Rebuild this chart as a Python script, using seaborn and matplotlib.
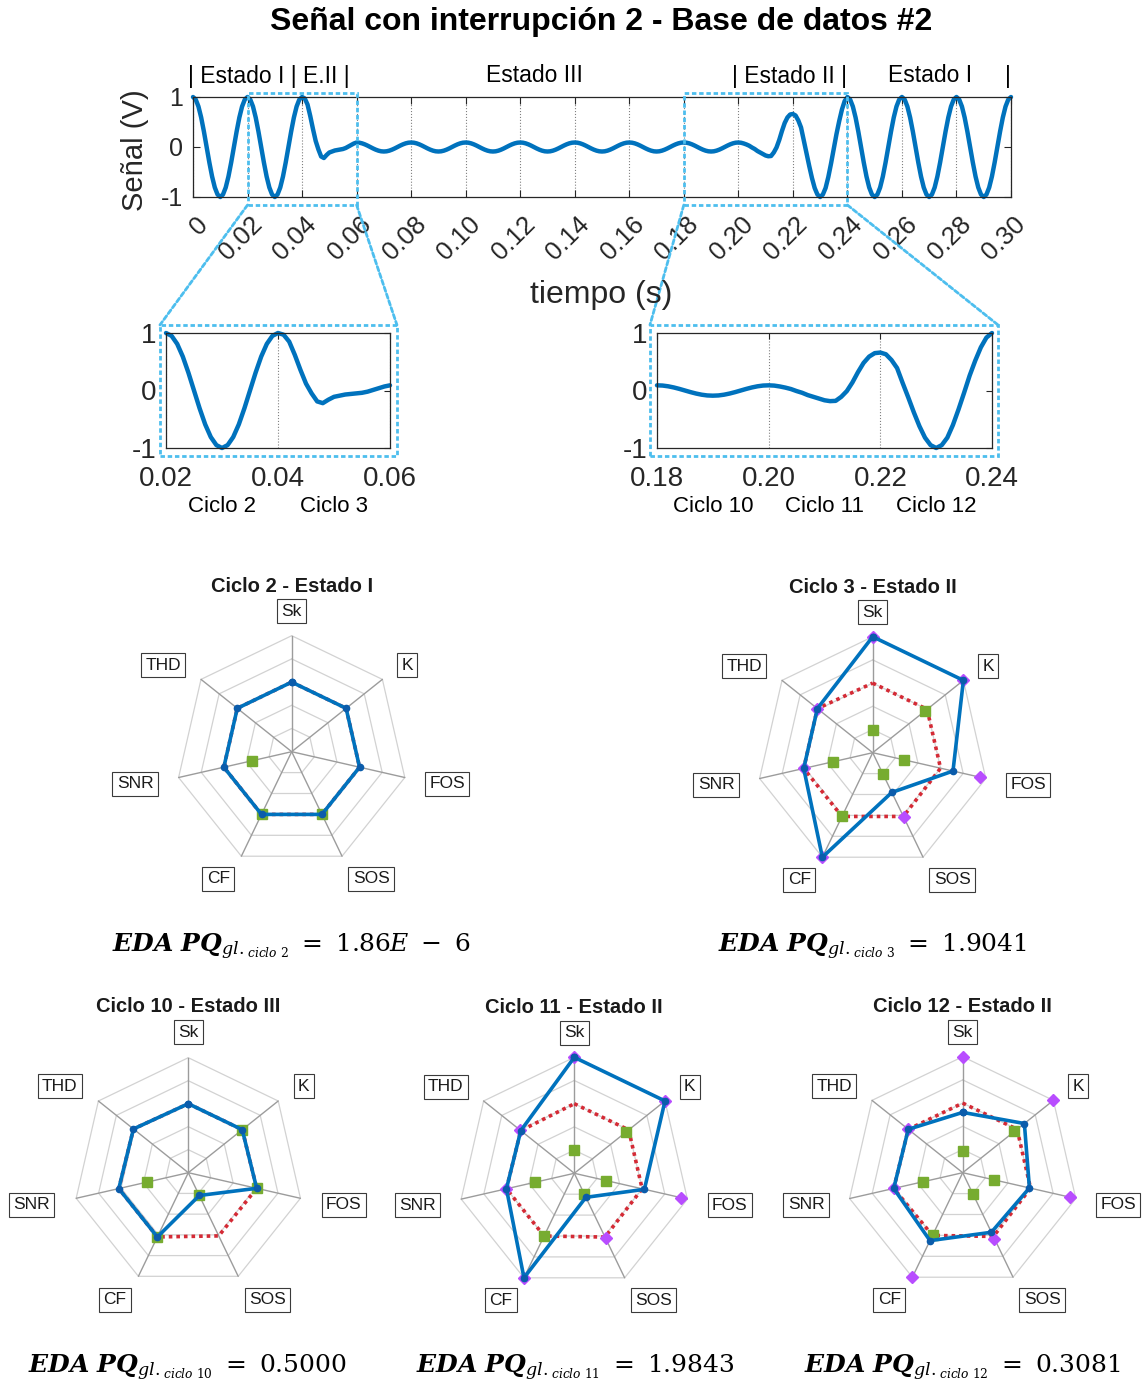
import numpy as np
import pandas as pd
import matplotlib
matplotlib.use("Agg")
import matplotlib.pyplot as plt
import seaborn as sns
from matplotlib.patches import Rectangle, ConnectionPatch
from matplotlib.transforms import ScaledTranslation, blended_transform_factory

sns.set_theme(style="white")
plt.rcParams["font.family"] = ["Liberation Sans", "DejaVu Sans"]
plt.rcParams["mathtext.fontset"] = "custom"
plt.rcParams["mathtext.rm"] = "DejaVu Serif"
plt.rcParams["mathtext.it"] = "DejaVu Serif:italic"
plt.rcParams["mathtext.bf"] = "DejaVu Serif:bold:italic"

# ---------------- data ----------------
TITLE = "Señal con interrupción 2 - Base de datos #2"
SIG_ESTADO_I_INICIO = [  # 0.000 - 0.039 s
    1.00, 0.95, 0.81, 0.59, 0.31, 0.00, -0.31, -0.59, -0.81, -0.95,
    -1.00, -0.95, -0.81, -0.59, -0.31, 0.00, 0.31, 0.59, 0.81, 0.95,
    1.00, 0.95, 0.81, 0.59, 0.31, 0.00, -0.31, -0.59, -0.81, -0.95,
    -1.00, -0.95, -0.81, -0.59, -0.31, 0.00, 0.31, 0.59, 0.81, 0.95]
SIG_CICLO_3 = [  # 0.040 - 0.059 s
    1.00, 0.97, 0.85, 0.62, 0.36, 0.12, -0.05, -0.19, -0.22, -0.16,
    -0.11, -0.09, -0.07, -0.06, -0.05, -0.04, -0.02, 0.01, 0.04, 0.07]
SIG_ESTADO_III = [  # 0.060 - 0.199 s
    0.09, 0.086, 0.073, 0.053, 0.028, 0.00, -0.028, -0.053, -0.073, -0.086,
    -0.09, -0.086, -0.073, -0.053, -0.028, 0.00, 0.028, 0.053, 0.073, 0.086,
    0.09, 0.086, 0.073, 0.053, 0.028, 0.00, -0.028, -0.053, -0.073, -0.086,
    -0.09, -0.086, -0.073, -0.053, -0.028, 0.00, 0.028, 0.053, 0.073, 0.086,
    0.09, 0.086, 0.073, 0.053, 0.028, 0.00, -0.028, -0.053, -0.073, -0.086,
    -0.09, -0.086, -0.073, -0.053, -0.028, 0.00, 0.028, 0.053, 0.073, 0.086,
    0.09, 0.086, 0.073, 0.053, 0.028, 0.00, -0.028, -0.053, -0.073, -0.086,
    -0.09, -0.086, -0.073, -0.053, -0.028, 0.00, 0.028, 0.053, 0.073, 0.086,
    0.09, 0.086, 0.073, 0.053, 0.028, 0.00, -0.028, -0.053, -0.073, -0.086,
    -0.09, -0.086, -0.073, -0.053, -0.028, 0.00, 0.028, 0.053, 0.073, 0.086,
    0.09, 0.086, 0.073, 0.053, 0.028, 0.00, -0.028, -0.053, -0.073, -0.086,
    -0.09, -0.086, -0.073, -0.053, -0.028, 0.00, 0.028, 0.053, 0.073, 0.086,
    0.09, 0.086, 0.073, 0.053, 0.028, 0.00, -0.028, -0.053, -0.073, -0.086,
    -0.09, -0.086, -0.073, -0.053, -0.028, 0.00, 0.028, 0.053, 0.073, 0.086]
SIG_CICLOS_11_12 = [  # 0.200 - 0.239 s
    0.09, 0.085, 0.07, 0.05, 0.025, -0.01, -0.04, -0.08, -0.11, -0.14,
    -0.17, -0.185, -0.18, -0.11, -0.01, 0.14, 0.32, 0.48, 0.59, 0.65,
    0.66, 0.63, 0.53, 0.39, 0.13, -0.12, -0.38, -0.62, -0.82, -0.95,
    -1.00, -0.95, -0.82, -0.60, -0.33, -0.04, 0.26, 0.52, 0.75, 0.92]
SIG_ESTADO_I_FINAL = [  # 0.240 - 0.300 s
    1.00, 0.95, 0.81, 0.59, 0.31, 0.00, -0.31, -0.59, -0.81, -0.95,
    -1.00, -0.95, -0.81, -0.59, -0.31, 0.00, 0.31, 0.59, 0.81, 0.95,
    1.00, 0.95, 0.81, 0.59, 0.31, 0.00, -0.31, -0.59, -0.81, -0.95,
    -1.00, -0.95, -0.81, -0.59, -0.31, 0.00, 0.31, 0.59, 0.81, 0.95,
    1.00, 0.95, 0.81, 0.59, 0.31, 0.00, -0.31, -0.59, -0.81, -0.95,
    -1.00, -0.95, -0.81, -0.59, -0.31, 0.00, 0.31, 0.59, 0.81, 0.95,
    1.00]
SIGNAL = (SIG_ESTADO_I_INICIO + SIG_CICLO_3 + SIG_ESTADO_III
          + SIG_CICLOS_11_12 + SIG_ESTADO_I_FINAL)
TIME = np.round(np.arange(len(SIGNAL)) * 0.001, 3)

MAIN_XTICKS = [0, 0.02, 0.04, 0.06, 0.08, 0.10, 0.12, 0.14, 0.16, 0.18,
               0.20, 0.22, 0.24, 0.26, 0.28, 0.30]
MAIN_XTICKLABELS = ["0", "0.02", "0.04", "0.06", "0.08", "0.10", "0.12", "0.14",
                    "0.16", "0.18", "0.20", "0.22", "0.24", "0.26", "0.28", "0.30"]
YTICKS = [-1, 0, 1]
YTICKLABELS = ["-1", "0", "1"]

STATE_TEXTS = ["| Estado I | E.II |", "Estado III", "| Estado II |", "Estado I", "|"]
STATE_X = [-0.0018, 0.1254, 0.2189, 0.2703, 0.2989]
STATE_HA = ["left", "center", "center", "center", "center"]

ZOOM1_RANGE = (0.02, 0.06)
ZOOM1_TICKS = [0.02, 0.04, 0.06]
ZOOM1_TICKLABELS = ["0.02", "0.04", "0.06"]
ZOOM1_CYCLES = ["Ciclo 2", "Ciclo 3"]
ZOOM1_CYCLE_X = [0.03, 0.05]
ZOOM2_RANGE = (0.18, 0.24)
ZOOM2_TICKS = [0.18, 0.20, 0.22, 0.24]
ZOOM2_TICKLABELS = ["0.18", "0.20", "0.22", "0.24"]
ZOOM2_CYCLES = ["Ciclo 10", "Ciclo 11", "Ciclo 12"]
ZOOM2_CYCLE_X = [0.19, 0.21, 0.23]

FEATURES = ["Sk", "K", "FOS", "SOS", "CF", "SNR", "THD"]
GRID_LEVELS = [0.2, 0.4, 0.6, 0.8, 1.0]
nan = np.nan
RADAR_TITLES = ["Ciclo 2 - Estado I", "Ciclo 3 - Estado II", "Ciclo 10 - Estado III",
                "Ciclo 11 - Estado II", "Ciclo 12 - Estado II"]
BLUE = [
    [0.60, 0.60, 0.60, 0.60, 0.60, 0.60, 0.60],
    [1.00, 1.00, 0.71, 0.38, 1.00, 0.61, 0.61],
    [0.60, 0.60, 0.61, 0.22, 0.62, 0.62, 0.61],
    [1.00, 1.00, 0.62, 0.23, 1.00, 0.60, 0.59],
    [0.52, 0.68, 0.59, 0.57, 0.65, 0.61, 0.60],
]
RED = [
    [0.60, 0.60, 0.60, 0.60, 0.60, 0.60, 0.60],
    [0.60, 0.60, 0.60, 0.61, 0.61, 0.61, 0.61],
    [0.60, 0.60, 0.61, 0.61, 0.62, 0.62, 0.61],
    [0.60, 0.60, 0.60, 0.61, 0.60, 0.60, 0.59],
    [0.60, 0.60, 0.60, 0.61, 0.60, 0.61, 0.60],
]
GREEN = [
    [nan, nan, nan, 0.60, 0.60, 0.35, nan],
    [0.20, 0.58, 0.28, 0.20, 0.61, 0.35, nan],
    [nan, 0.60, 0.61, 0.22, 0.62, 0.37, nan],
    [0.20, 0.57, 0.28, 0.20, 0.60, 0.35, nan],
    [0.19, 0.57, 0.28, 0.20, 0.60, 0.35, nan],
]
PURPLE = [
    [nan, nan, nan, nan, nan, nan, nan],
    [1.00, 1.00, 0.95, 0.62, 1.00, 0.61, 0.61],
    [nan, nan, nan, nan, nan, nan, nan],
    [1.00, 1.00, 0.94, 0.62, 1.00, 0.60, 0.60],
    [1.00, 1.00, 0.95, 0.63, 1.00, 0.61, 0.60],
]
EDA_CYCLES = ["2", "3", "10", "11", "12"]
EDA_VALUES = ["1.86E\\ -\\ 6", "1.9041", "0.5000", "1.9843", "0.3081"]

# ---------------- layout ----------------
W, H = 1145, 1388
fig = plt.figure(figsize=(W / 100, H / 100), dpi=100)
fig.patch.set_facecolor("white")

BLUE_C = "#0072BD"
LIGHT_BLUE = "#4DBEEE"
AX_C = "#262626"
ZOOM_LS = (0, (1.6, 1.0))

df = pd.DataFrame({"t": TIME, "v": SIGNAL})


def px_rect(l, t, r, b):
    return [l / W, 1 - b / H, (r - l) / W, (b - t) / H]


def style_axes(ax):
    for s in ax.spines.values():
        s.set_visible(True)
        s.set_color(AX_C)
        s.set_linewidth(0.9)
    ax.set_facecolor("white")


# main signal
ax = fig.add_axes(px_rect(193, 97, 1011, 197))
style_axes(ax)
sns.lineplot(data=df, x="t", y="v", ax=ax, color=BLUE_C, lw=3.2, estimator=None)
for ln in ax.lines:
    ln.set_clip_on(False)
ax.set_xlim(0, 0.30)
ax.set_ylim(-1, 1)
ax.set_xticks(MAIN_XTICKS)
ax.set_xticklabels([])
ax.set_yticks(YTICKS)
ax.set_yticklabels(YTICKLABELS, fontsize=18)
ax.tick_params(axis="both", direction="in", length=5, width=0.8, color=AX_C,
               right=True, top=True, left=True, bottom=True, pad=7)
ax.grid(True, axis="x", linestyle=":", color="#808080", lw=0.8)
ax.set_xlabel("")
ax.set_ylabel("")
tr = blended_transform_factory(ax.transData, ax.transAxes)
off = ScaledTranslation(0.11, -0.24, fig.dpi_scale_trans)
for x, lab in zip(MAIN_XTICKS, MAIN_XTICKLABELS):
    ax.text(x, 0, lab, transform=tr + off, rotation=45, rotation_mode="anchor",
            ha="right", va="center", fontsize=18.5, color="#262626")
fig.text(601 / W, 1 - 295 / H, "tiempo (s)", ha="center", va="center",
         fontsize=23, color="#262626")
fig.text(135 / W, 1 - 150 / H, "Señal (V)", ha="center", va="center",
         rotation=90, fontsize=21, color="#262626")
trs = blended_transform_factory(ax.transData, fig.transFigure)
for x, s, ha in zip(STATE_X, STATE_TEXTS, STATE_HA):
    ax.text(x, 1 - 76 / H, s, transform=trs, ha=ha, va="center", fontsize=16.5,
            color="black")
fig.text(601.5 / W, 1 - 22 / H, TITLE, ha="center", va="center", fontsize=23,
         fontweight="bold", color="black")


def inset(rect, xr, ticks, ticklabels, cycles, cycle_x, pads):
    a = fig.add_axes(rect)
    style_axes(a)
    sub = df[(df.t >= xr[0] - 1e-9) & (df.t <= xr[1] + 1e-9)]
    sns.lineplot(data=sub, x="t", y="v", ax=a, color=BLUE_C, lw=3.2, estimator=None)
    for ln in a.lines:
        ln.set_clip_on(False)
    a.set_xlim(*xr)
    a.set_ylim(-1, 1)
    a.set_xticks(ticks)
    a.set_xticklabels(ticklabels, fontsize=20)
    a.set_yticks(YTICKS)
    a.set_yticklabels(YTICKLABELS, fontsize=20)
    a.tick_params(axis="both", direction="in", length=4, width=0.8, color=AX_C,
                  right=True, top=True)
    a.tick_params(axis="x", pad=13)
    a.tick_params(axis="y", pad=7)
    a.grid(True, axis="x", linestyle=":", color="#808080", lw=0.8)
    a.set_xlabel("")
    a.set_ylabel("")
    tb = blended_transform_factory(a.transData, a.transAxes)
    for x, s in zip(cycle_x, cycles):
        a.text(x, -0.51, s, transform=tb, ha="center", va="center", fontsize=16,
               color="black")
    l, r, b, t = pads
    a.add_patch(Rectangle((l, b), r - l, t - b, transform=a.transAxes, fill=False,
                          ec=LIGHT_BLUE, lw=2, ls=ZOOM_LS, clip_on=False, zorder=5))
    return a


in1 = inset(px_rect(166, 333, 390, 448), ZOOM1_RANGE, ZOOM1_TICKS, ZOOM1_TICKLABELS,
            ZOOM1_CYCLES, ZOOM1_CYCLE_X, (-0.027, 1.031, -0.07, 1.07))
in2 = inset(px_rect(657, 333, 992, 448), ZOOM2_RANGE, ZOOM2_TICKS, ZOOM2_TICKLABELS,
            ZOOM2_CYCLES, ZOOM2_CYCLE_X, (-0.021, 1.018, -0.07, 1.07))

for xr, a, (pl, pr) in [(ZOOM1_RANGE, in1, (-0.027, 1.031)),
                        (ZOOM2_RANGE, in2, (-0.021, 1.018))]:
    ax.add_patch(Rectangle((xr[0], -1.16), xr[1] - xr[0], 2.24, fill=False,
                           ec=LIGHT_BLUE, lw=2, ls=ZOOM_LS, clip_on=False, zorder=5))
    for xa, xb in [(xr[0], pl), (xr[1], pr)]:
        con = ConnectionPatch(xyA=(xa, -1.16), coordsA=ax.transData,
                              xyB=(xb, 1.07), coordsB=a.transAxes,
                              color=LIGHT_BLUE, lw=2, ls=ZOOM_LS, zorder=1)
        fig.add_artist(con)

# radar charts
ANG = np.arange(len(FEATURES)) * 2 * np.pi / len(FEATURES)
ANG_C = np.append(ANG, ANG[0])
LABEL_OFF = {"Sk": (0.0, 1.21), "K": (0.995, 0.745), "FOS": (1.34, -0.276),
             "SOS": (0.685, -1.095), "CF": (-0.634, -1.095), "SNR": (-1.35, -0.276),
             "THD": (-1.108, 0.745)}
CENTERS = [(291.7, 751.7, 116), (872.7, 752.7, 116), (188.3, 1172.7, 115),
           (574.3, 1173.3, 116), (962.7, 1172.7, 116)]


def closed(v):
    return np.append(v, v[0])


for i, (cx, cy, R) in enumerate(CENTERS):
    a = fig.add_axes([(cx - R) / W, 1 - (cy + R) / H, 2 * R / W, 2 * R / H],
                     projection="polar")
    a.set_theta_zero_location("N")
    a.set_theta_direction(-1)
    a.set_ylim(0, 1)
    a.grid(False)
    a.spines["polar"].set_visible(False)
    a.set_xticks([])
    a.set_yticks([])
    a.patch.set_alpha(0)
    for lev in GRID_LEVELS:
        a.plot(ANG_C, [lev] * len(ANG_C), color="#d2d2d2", lw=0.9, clip_on=False,
               zorder=1)
    for th in ANG:
        a.plot([th, th], [0, 1], color="#9c9c9c", lw=1.0, clip_on=False, zorder=1)
    a.plot(ANG_C, closed(np.array(RED[i])), color="#D42A35", lw=2.6,
           ls=(0, (1, 1.1)), clip_on=False, zorder=2)
    a.plot(ANG, GREEN[i], ls="none", marker="s", ms=6.5, color="#77AC30",
           clip_on=False, zorder=3)
    a.plot(ANG, PURPLE[i], ls="none", marker="D", ms=6.5, color="#B84DFF",
           clip_on=False, zorder=4)
    a.plot(ANG_C, closed(np.array(BLUE[i])), color=BLUE_C, lw=2.6, marker="o",
           ms=4.5, mfc="#0b5cab", mec="#0b5cab", clip_on=False, zorder=5)
    for f in FEATURES:
        dx, dy = LABEL_OFF[f]
        a.text(0.5 + 0.5 * dx * 116 / R, 0.5 + 0.5 * dy * 116 / R, f,
               transform=a.transAxes, ha="center", va="center", fontsize=12.5,
               color="#1a1a1a",
               bbox=dict(boxstyle="square,pad=0.25", fc="white", ec="#3a3a3a",
                         lw=0.8))
    a.text(0.5, 0.5 + 165.7 / (2 * R), RADAR_TITLES[i], transform=a.transAxes,
           ha="center", va="center", fontsize=14.5, fontweight="bold",
           color="#1a1a1a")

# EDA formulas
EDA_POS = [(291.5, 952), (873, 952), (187, 1373), (575, 1373), (962, 1373)]
for (x, y), c, v in zip(EDA_POS, EDA_CYCLES, EDA_VALUES):
    s = (r"$\mathbf{EDA\ PQ}_{gl._{ciclo\ " + c + r"}}\ =\ " + v + r"$")
    fig.text(x / W, 1 - y / H, s, ha="center", va="baseline", fontsize=18,
             color="black")

fig.savefig("out.png", dpi=100, facecolor="white")
